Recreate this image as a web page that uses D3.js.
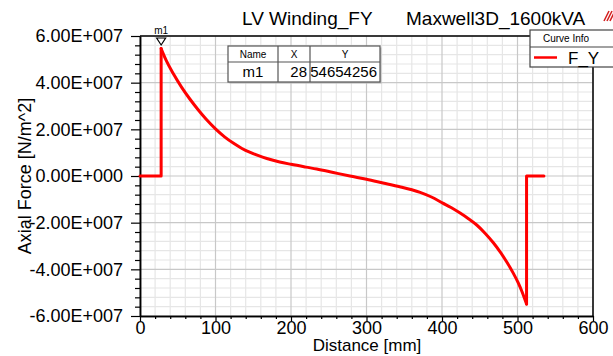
<!DOCTYPE html>
<html>
<head>
<meta charset="utf-8">
<script src="https://cdn.jsdelivr.net/npm/d3@7"></script>
<style>
  html, body { margin: 0; padding: 0; background: #fff; }
  svg { display: block; font-family: "Liberation Sans", Arial, sans-serif; }
</style>
</head>
<body>
<svg id="chart" width="613" height="356"></svg>
<script>
// Axial force profile along the LV winding (distance in mm, force in N/m^2)
const distance = [0, 28, 28, 31, 35, 44, 55, 66, 77, 88, 100, 112, 124, 135, 146, 157, 168, 185, 200,
  220, 234, 256, 278, 300, 322, 344, 360, 371, 386, 401, 412, 424, 435, 446, 457, 468, 477,
  486, 494, 501, 506, 512, 512, 535];
const axialForce = [0, 0, 54654256, 52.2e6, 49.3e6, 43.9e6, 38.1e6, 33.0e6, 28.4e6, 24.2e6, 20.2e6,
  16.8e6, 14.0e6, 11.8e6, 10.1e6, 8.7e6, 7.5e6, 6.0e6, 5.0e6, 3.8e6, 3.0e6, 1.5e6, 0.0,
  -1.4e6, -3.0e6, -4.6e6, -5.9e6, -7.0e6, -9.0e6, -11.6e6, -13.5e6, -15.9e6, -18.3e6, -21.0e6,
  -24.5e6, -28.6e6, -32.5e6, -37.0e6, -41.4e6, -45.8e6, -49.6e6, -54.9e6, 0, 0];

const xTicks = [0, 100, 200, 300, 400, 500, 600];
const yTicks = [-6e7, -4e7, -2e7, 0, 2e7, 4e7, 6e7];
const seriesName = "F_Y";
const marker = { name: "m1", x: 28, y: 54654256 };

const svg = d3.select("#chart");
const pLeft = 140, pRight = 593, pTop = 36, pBottom = 316;

const x = d3.scaleLinear().domain([0, 600]).range([pLeft, pRight]);
const y = d3.scaleLinear().domain([-6e7, 6e7]).range([pBottom, pTop]);

// "6.00E+007" style labels
function sci(v) {
  if (v === 0) return "0.00E+000";
  const e = Math.floor(Math.log10(Math.abs(v)));
  const m = v / Math.pow(10, e);
  return m.toFixed(2) + "E" + (e < 0 ? "-" : "+") + String(Math.abs(e)).padStart(3, "0");
}

// grid: minor then major
const minorX = d3.range(0, 601, 20).filter(v => v % 100 !== 0);
const minorY = d3.range(-6e7, 6e7 + 1, 4e6).filter(v => Math.abs(v % 2e7) > 1);
const grid = svg.append("g");
grid.selectAll(".mx").data(minorX).join("line")
  .attr("x1", d => x(d)).attr("x2", d => x(d)).attr("y1", pTop).attr("y2", pBottom)
  .attr("stroke", "#e6e6e6").attr("stroke-width", 1.2);
grid.selectAll(".my").data(minorY).join("line")
  .attr("y1", d => y(d)).attr("y2", d => y(d)).attr("x1", pLeft).attr("x2", pRight)
  .attr("stroke", "#e6e6e6").attr("stroke-width", 1.2);
grid.selectAll(".Mx").data(xTicks).join("line")
  .attr("x1", d => x(d)).attr("x2", d => x(d)).attr("y1", pTop).attr("y2", pBottom)
  .attr("stroke", "#c8c8c8").attr("stroke-width", 1.2);
grid.selectAll(".My").data(yTicks).join("line")
  .attr("y1", d => y(d)).attr("y2", d => y(d)).attr("x1", pLeft).attr("x2", pRight)
  .attr("stroke", "#c8c8c8").attr("stroke-width", 1.2);

// axes
const yAxis = svg.append("g").attr("transform", `translate(${pLeft},0)`)
  .call(d3.axisLeft(y).tickValues(yTicks).tickFormat(sci).tickSizeInner(9).tickSizeOuter(0).tickPadding(8));
const yMinor = svg.append("g").attr("transform", `translate(${pLeft},0)`)
  .call(d3.axisLeft(y).tickValues(minorY).tickFormat("").tickSizeInner(5).tickSizeOuter(0));
const xAxis = svg.append("g").attr("transform", `translate(0,${pBottom})`)
  .call(d3.axisBottom(x).tickValues(xTicks).tickFormat(d3.format("d")).tickSizeInner(5).tickSizeOuter(0).tickPadding(0));
const xMinor = svg.append("g").attr("transform", `translate(0,${pBottom})`)
  .call(d3.axisBottom(x).tickValues(minorX).tickFormat("").tickSizeInner(3).tickSizeOuter(0));
[yAxis, yMinor, xAxis, xMinor].forEach(g => {
  g.select(".domain").attr("stroke", "#000").attr("stroke-width", 1.5);
  g.selectAll(".tick line").attr("stroke", "#000").attr("stroke-width", 1.2);
  g.selectAll("text").attr("fill", "#000").attr("font-size", 18)
    .attr("font-family", "'Liberation Sans', Arial, sans-serif");
});

// frame: top and right edges
svg.append("line").attr("x1", pLeft).attr("x2", 530).attr("y1", pTop).attr("y2", pTop)
  .attr("stroke", "#000").attr("stroke-width", 1.5);
svg.append("line").attr("x1", pRight).attr("x2", pRight).attr("y1", 67).attr("y2", pBottom)
  .attr("stroke", "#000").attr("stroke-width", 1.5);

// curve: straight steps at both ends, smooth body in between
const pts = distance.map((d, i) => [d, axialForce[i]]);
const stepStart = pts.slice(0, 3);
const body = pts.slice(2, 42);
const stepEnd = pts.slice(41);
const lineLin = d3.line().x(d => x(d[0])).y(d => y(d[1]));
const lineSmooth = d3.line().x(d => x(d[0])).y(d => y(d[1])).curve(d3.curveMonotoneX);
[[stepStart, lineLin], [body, lineSmooth], [stepEnd, lineLin]].forEach(([p, gen]) =>
  svg.append("path").datum(p).attr("d", gen)
    .attr("fill", "none").attr("stroke", "#ff0000").attr("stroke-width", 3)
    .attr("stroke-linejoin", "round").attr("stroke-linecap", "round"));

// marker m1
const mx = x(marker.x);
svg.append("path")
  .attr("d", `M${mx - 4.5},${pTop + 2} L${mx + 4.5},${pTop + 2} L${mx},${pTop + 9} Z`)
  .attr("fill", "#fff").attr("stroke", "#000").attr("stroke-width", 1.2);
svg.append("text").attr("x", mx).attr("y", pTop - 2).attr("text-anchor", "middle")
  .attr("font-size", 10).text(marker.name);

// marker table
const tbl = svg.append("g");
const tx0 = 228, tx1 = 278, tx2 = 310, tx3 = 380, ty0 = 46, ty1 = 62, ty2 = 82;
tbl.append("rect").attr("x", tx0 + 1.5).attr("y", ty0 + 1.5).attr("width", tx3 - tx0).attr("height", ty2 - ty0)
  .attr("fill", "#bbb");
tbl.append("rect").attr("x", tx0).attr("y", ty0).attr("width", tx3 - tx0).attr("height", ty2 - ty0)
  .attr("fill", "#fff").attr("stroke", "#555").attr("stroke-width", 1.2);
[[tx1, tx1, ty0, ty2], [tx2, tx2, ty0, ty2], [tx0, tx3, ty1, ty1]].forEach(l =>
  tbl.append("line").attr("x1", l[0]).attr("x2", l[1]).attr("y1", l[2]).attr("y2", l[3])
    .attr("stroke", "#555").attr("stroke-width", 1.2));
tbl.append("text").attr("x", (tx0 + tx1) / 2).attr("y", ty1 - 4).attr("text-anchor", "middle").attr("font-size", 10).text("Name");
tbl.append("text").attr("x", (tx1 + tx2) / 2).attr("y", ty1 - 4).attr("text-anchor", "middle").attr("font-size", 10).text("X");
tbl.append("text").attr("x", (tx2 + tx3) / 2).attr("y", ty1 - 4).attr("text-anchor", "middle").attr("font-size", 10).text("Y");
tbl.append("text").attr("x", (tx0 + tx1) / 2).attr("y", ty2 - 5).attr("text-anchor", "middle").attr("font-size", 15).text(marker.name);
tbl.append("text").attr("x", tx2 - 3).attr("y", ty2 - 5).attr("text-anchor", "end").attr("font-size", 15).text(marker.x);
tbl.append("text").attr("x", tx3 - 3).attr("y", ty2 - 5).attr("text-anchor", "end").attr("font-size", 15).text(marker.y);

// legend
const lg = svg.append("g");
lg.append("rect").attr("x", 530).attr("y", 30).attr("width", 100).attr("height", 37)
  .attr("fill", "#fff").attr("stroke", "#444").attr("stroke-width", 1.2);
lg.append("line").attr("x1", 530).attr("x2", 613).attr("y1", 47).attr("y2", 47).attr("stroke", "#444").attr("stroke-width", 1.2);
lg.append("text").attr("x", 566).attr("y", 42).attr("text-anchor", "middle").attr("font-size", 10).text("Curve Info");
lg.append("line").attr("x1", 534).attr("x2", 557).attr("y1", 57.5).attr("y2", 57.5).attr("stroke", "#ff0000").attr("stroke-width", 2.5);
lg.append("text").attr("x", 568).attr("y", 64).attr("font-size", 17).text(seriesName);

// title
svg.append("text").attr("x", 242).attr("y", 25).attr("font-size", 19).text("LV Winding_FY");
svg.append("text").attr("x", 406).attr("y", 25).attr("font-size", 19).text("Maxwell3D_1600kVA");

// small logo in the corner
const logo = svg.append("g").attr("transform", "translate(604,9)");
[0, 3, 6].forEach(o => logo.append("line").attr("x1", o).attr("y1", 12).attr("x2", o + 5).attr("y2", 2)
  .attr("stroke", "#d42020").attr("stroke-width", 1.6));

// axis titles
svg.append("text").attr("x", 367).attr("y", 351).attr("text-anchor", "middle").attr("font-size", 17).text("Distance [mm]");
svg.append("text").attr("transform", "translate(31,176) rotate(-90)").attr("text-anchor", "middle")
  .attr("font-size", 18).text("Axial Force [N/m^2]");
</script>
</body>
</html>
